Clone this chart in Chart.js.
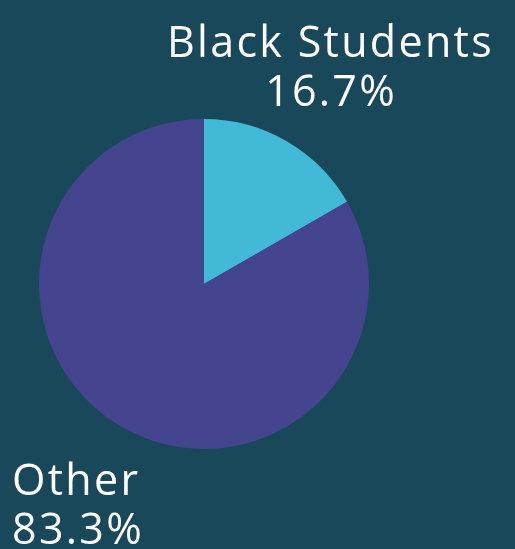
<!DOCTYPE html>
<html>
<head>
<meta charset="utf-8">
<script src="https://cdn.jsdelivr.net/npm/chart.js@4"></script>
<style>
  html, body { margin:0; padding:0; background:#19485a; }
  #wrap { width:515px; height:549px; }
</style>
</head>
<body>
<div id="wrap"><canvas id="c" width="515" height="549"></canvas></div>
<script>
const labels = ['Black Students', 'Other'];
const values = [16.7, 83.3];
const colors = ['#42b9d7', '#45448e'];

// labels outside the pie, drawn as text after the slices
const labelPlugin = {
  id: 'sliceLabels',
  afterDraw(chart) {
    const ctx = chart.ctx;
    ctx.save();
    ctx.fillStyle = '#ffffff';
    ctx.font = '43px "Open Sans", sans-serif';
    ctx.letterSpacing = '2.3px';
    ctx.textBaseline = 'alphabetic';
    ctx.textAlign = 'left';
    ctx.fillText(labels[0], 167, 57);
    ctx.fillText(values[0].toFixed(1) + '%', 265, 106);
    ctx.fillText(labels[1], 12, 495);
    ctx.fillText(values[1].toFixed(1) + '%', 12, 544);
    ctx.restore();
  }
};

new Chart(document.getElementById('c'), {
  type: 'pie',
  data: {
    labels: labels,
    datasets: [{
      data: values,
      backgroundColor: colors,
      borderWidth: 0
    }]
  },
  options: {
    responsive: false,
    animation: false,
    layout: { padding: { left: 39, right: 146, top: 119, bottom: 100 } },
    plugins: { legend: { display: false }, tooltip: { enabled: false } }
  },
  plugins: [labelPlugin]
});
</script>
</body>
</html>
